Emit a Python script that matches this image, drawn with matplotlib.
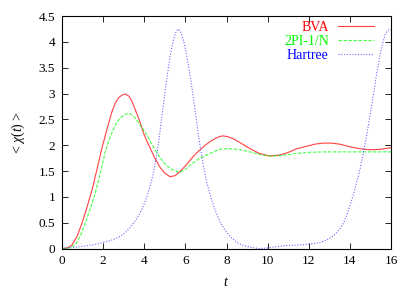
import matplotlib
matplotlib.use("Agg")
import matplotlib.pyplot as plt

t_bva = [0, 0.25, 0.49, 0.75, 0.97, 1.2, 1.46, 1.7, 1.94, 2.2, 2.43, 2.6, 2.76, 2.92,
         3.08, 3.25, 3.4, 3.57, 3.79, 3.97, 4.12, 4.28, 4.5, 4.77, 5.0, 5.25, 5.5, 5.74,
         6.0, 6.23, 6.45, 6.71, 7.0, 7.2, 7.45, 7.68, 7.85, 8.1, 8.4, 8.82, 9.2, 9.6,
         10.1, 10.6, 11.0, 11.4, 11.9, 12.3, 12.7, 13.1, 13.5, 14.0, 14.5, 15.0, 15.5, 16]
y_bva = [0, 0.01, 0.07, 0.25, 0.49, 0.78, 1.13, 1.53, 1.94, 2.33, 2.65, 2.82, 2.92, 2.97,
         2.99, 2.95, 2.85, 2.68, 2.45, 2.23, 2.08, 1.95, 1.76, 1.57, 1.46, 1.39, 1.41, 1.49,
         1.6, 1.71, 1.81, 1.91, 2.01, 2.07, 2.13, 2.17, 2.18, 2.16, 2.11, 2.01, 1.92, 1.84,
         1.79, 1.81, 1.86, 1.93, 1.98, 2.02, 2.04, 2.04, 2.02, 1.97, 1.93, 1.91, 1.92, 1.95]

t_2pi = [0, 0.35, 0.65, 0.9, 1.13, 1.38, 1.62, 1.87, 2.11, 2.35, 2.59, 2.8, 3.0, 3.16,
         3.32, 3.5, 3.73, 3.95, 4.13, 4.28, 4.5, 4.77, 5.0, 5.25, 5.5, 5.74, 6.0, 6.23,
         6.45, 6.71, 7.04, 7.35, 7.68, 7.93, 8.3, 8.82, 9.14, 9.6, 10.1, 10.7, 11.4, 12.0,
         12.7, 13.5, 14.3, 15.0, 16]
y_2pi = [0, 0.01, 0.07, 0.25, 0.49, 0.78, 1.07, 1.47, 1.88, 2.17, 2.39, 2.51, 2.58, 2.61,
         2.61, 2.55, 2.43, 2.3, 2.2, 2.08, 1.93, 1.76, 1.64, 1.55, 1.5, 1.48, 1.53, 1.61,
         1.68, 1.75, 1.81, 1.87, 1.92, 1.93, 1.93, 1.9, 1.87, 1.82, 1.79, 1.8, 1.84, 1.86,
         1.87, 1.87, 1.87, 1.87, 1.87]

t_har = [0, 0.5, 0.97, 1.5, 1.94, 2.4, 2.76, 3.05, 3.3, 3.55, 3.79, 3.95, 4.12, 4.28,
         4.44, 4.56, 4.68, 4.8, 4.93, 5.05, 5.17, 5.29, 5.41, 5.53, 5.66, 5.78, 5.9, 6.02,
         6.14, 6.27, 6.39, 6.51, 6.63, 6.75, 6.87, 7.03, 7.2, 7.44, 7.68, 7.9, 8.2, 8.5,
         8.8, 9.2, 9.6, 10.0, 10.5, 11.0, 11.6, 12.2, 12.6, 13.03, 13.3, 13.52, 13.7, 13.85,
         14.0, 14.17, 14.33, 14.5, 14.66, 14.82, 14.98, 15.14, 15.3, 15.47, 15.6, 15.71,
         15.8, 15.87, 16]
y_har = [0, 0.02, 0.04, 0.07, 0.11, 0.16, 0.22, 0.3, 0.4, 0.53, 0.68, 0.82, 0.99, 1.2,
         1.45, 1.7, 2.0, 2.38, 2.78, 3.15, 3.49, 3.8, 4.02, 4.18, 4.25, 4.18, 4.04, 3.83,
         3.56, 3.25, 2.91, 2.55, 2.2, 1.9, 1.62, 1.3, 1.04, 0.75, 0.52, 0.37, 0.22, 0.12,
         0.06, 0.02, 0.0, 0.01, 0.04, 0.06, 0.07, 0.09, 0.12, 0.2, 0.28, 0.39, 0.5, 0.65,
         0.82, 1.04, 1.28, 1.55, 1.86, 2.2, 2.58, 2.97, 3.38, 3.75, 3.98, 4.14,
         4.2, 4.23, 4.24]

xticks = [0, 2, 4, 6, 8, 10, 12, 14, 16]
yticks = [0, 0.5, 1, 1.5, 2, 2.5, 3, 3.5, 4, 4.5]
ytick_labels = ["0", "0.5", "1", "1.5", "2", "2.5", "3", "3.5", "4", "4.5"]

plt.rcParams["font.family"] = ["Liberation Serif", "DejaVu Serif"]
plt.rcParams["mathtext.fontset"] = "custom"
plt.rcParams["mathtext.rm"] = "Liberation Serif"
plt.rcParams["mathtext.it"] = "Liberation Serif:italic"

fig = plt.figure(figsize=(4.15, 2.91), dpi=100)
ax = fig.add_axes([0.1494, 0.146, 0.7928, 0.799])

ax.plot(t_bva, y_bva, color="#ff0000", lw=0.8, alpha=0.75, label="BVA")
ax.plot(t_2pi, y_2pi, color="#00ff00", lw=0.8, alpha=0.75, dashes=(3, 1.5), label="2PI-1/N")
ax.plot(t_har, y_har, color="#0000ff", lw=0.8, alpha=0.6, dashes=(1, 1.5), label="Hartree")

ax.set_xlim(0, 16)
ax.set_ylim(0, 4.5)
ax.set_xticks(xticks)
ax.set_xticklabels([str(x) for x in xticks])
ax.set_yticks(yticks)
ax.set_yticklabels(ytick_labels)
ax.tick_params(direction="in", top=True, right=True, length=4, width=0.6,
               labelsize=9.5, pad=5)
for s in ax.spines.values():
    s.set_linewidth(0.8)

ax.set_xlabel("$t$", fontsize=10, labelpad=6)
ax.set_ylabel("< $\\chi(t)$ >", fontsize=10, labelpad=8)

leg = ax.legend(loc="upper right", bbox_to_anchor=(0.948, 0.977), frameon=False,
                markerfirst=False, fontsize=10, handlelength=2.6, handletextpad=0.65,
                labelspacing=0.05, borderpad=0, borderaxespad=0, labelcolor="linecolor")
# gnuplot style: labels right-aligned against the samples
for col in leg._legend_handle_box.get_children():
    col.align = "right"
for txt in leg.get_texts():
    txt.set_alpha(1)

fig.savefig("out.png", dpi=100)
